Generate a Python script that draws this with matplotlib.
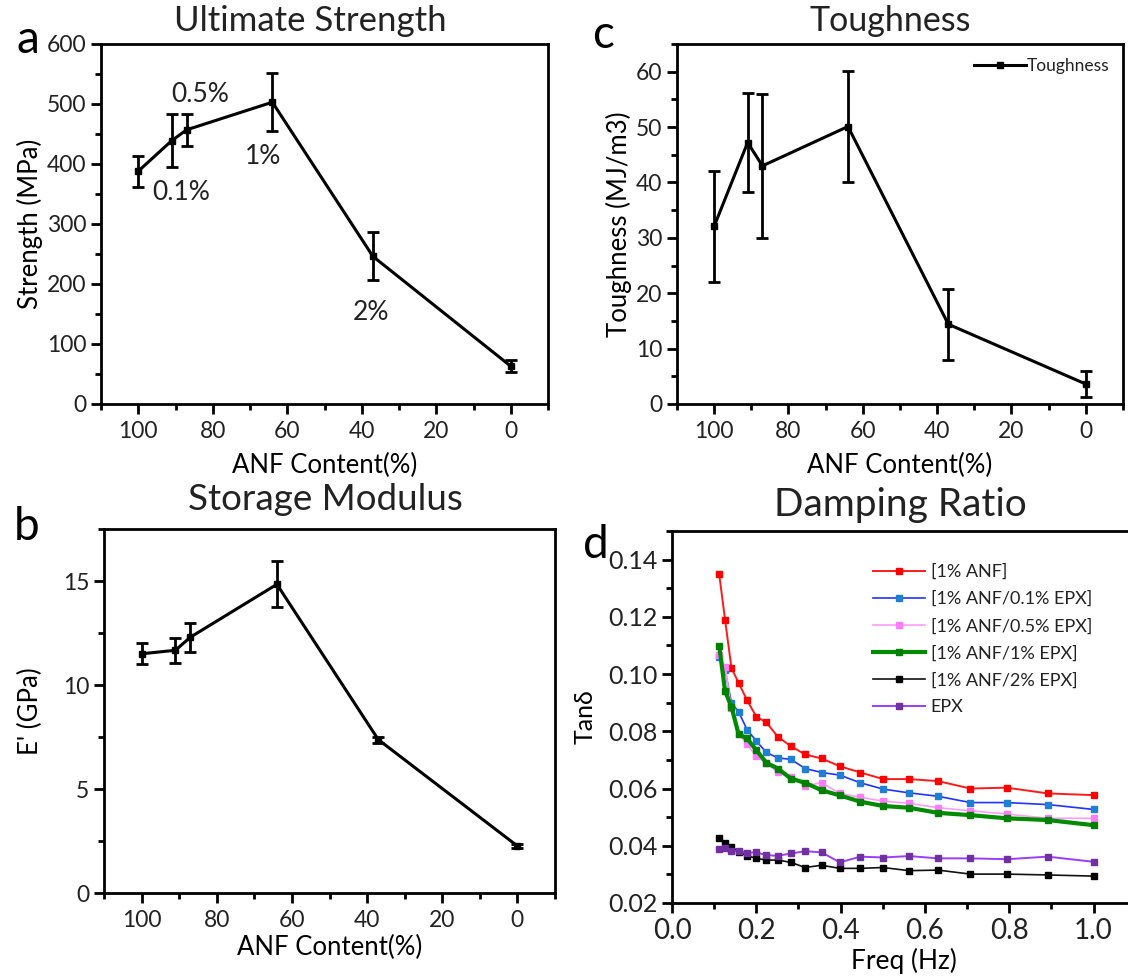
import matplotlib
matplotlib.use("Agg")
import matplotlib.pyplot as plt
from matplotlib.lines import Line2D
from matplotlib.ticker import MultipleLocator, FormatStrFormatter

plt.rcParams['font.family'] = ['Lato', 'DejaVu Sans']
plt.rcParams['text.color'] = '#222222'

# ---- mechanical data vs ANF content ----
anf_content = [100, 91, 87, 64, 37, 0]

strength = [388, 439, 457, 503, 246, 63]
strength_err = [26, 44, 27, 48, 40, 10]
strength_tags = ["0.1%", "0.5%", "1%", "2%"]

modulus = [11.5, 11.67, 12.3, 14.84, 7.37, 2.26]
modulus_err = [0.5, 0.6, 0.7, 1.1, 0.15, 0.1]

toughness = [32.1, 47.2, 43.0, 50.1, 14.4, 3.6]
toughness_err = [10, 9, 13, 10, 6.4, 2.3]

# ---- damping (tan delta) vs frequency ----
freq = [0.112, 0.126, 0.141, 0.158, 0.178, 0.200, 0.224, 0.251, 0.282, 0.316,
        0.355, 0.398, 0.447, 0.501, 0.562, 0.631, 0.708, 0.794, 0.891, 1.000]
tan_anf = [0.1349, 0.1188, 0.1022, 0.0969, 0.0909, 0.0851, 0.0831, 0.0781, 0.0748, 0.0719,
           0.0705, 0.0678, 0.0656, 0.0633, 0.0633, 0.0626, 0.0600, 0.0603, 0.0583, 0.0577]
tan_epx01 = [0.1060, 0.1014, 0.0900, 0.0868, 0.0806, 0.0766, 0.0726, 0.0707, 0.0702, 0.0670,
             0.0656, 0.0647, 0.0620, 0.0598, 0.0585, 0.0573, 0.0551, 0.0551, 0.0544, 0.0527]
tan_epx05 = [0.1066, 0.1025, 0.0880, 0.0792, 0.0755, 0.0713, 0.0688, 0.0657, 0.0639, 0.0610,
             0.0620, 0.0583, 0.0569, 0.0556, 0.0548, 0.0533, 0.0522, 0.0511, 0.0496, 0.0496]
tan_epx1 = [0.1098, 0.0940, 0.0886, 0.0790, 0.0775, 0.0734, 0.0690, 0.0670, 0.0635, 0.0620,
            0.0594, 0.0576, 0.0554, 0.0539, 0.0533, 0.0515, 0.0507, 0.0496, 0.0490, 0.0472]
tan_epx2 = [0.0428, 0.0408, 0.0397, 0.0379, 0.0365, 0.0356, 0.0350, 0.0350, 0.0342, 0.0324,
            0.0332, 0.0321, 0.0321, 0.0324, 0.0313, 0.0315, 0.0301, 0.0301, 0.0298, 0.0294]
tan_epx = [0.0387, 0.0393, 0.0381, 0.0381, 0.0376, 0.0377, 0.0367, 0.0365, 0.0373, 0.0381,
           0.0377, 0.0342, 0.0362, 0.0359, 0.0364, 0.0356, 0.0356, 0.0353, 0.0362, 0.0344]
damping_labels = ["[1% ANF]", "[1% ANF/0.1% EPX]", "[1% ANF/0.5% EPX]",
                  "[1% ANF/1% EPX]", "[1% ANF/2% EPX]", "EPX"]

W, H = 1128, 976
fig = plt.figure(figsize=(W / 100, H / 100), dpi=100)


def px_axes(left, top, right, bottom):
    return fig.add_axes([left / W, 1 - bottom / H, (right - left) / W, (bottom - top) / H])


def fig_text(x, y, s, **kw):
    fig.text(x / W, 1 - y / H, s, **kw)


TICK_FS = 16.5
LABEL_FS = 18.5


def style_axes(ax):
    for sp in ax.spines.values():
        sp.set_linewidth(2)
        sp.set_color('black')
    ax.tick_params(which='both', direction='out', top=False, right=False,
                   width=2, labelsize=TICK_FS, colors='black', labelcolor='#222222')
    ax.tick_params(which='major', length=7)
    ax.tick_params(which='minor', length=4)


def anf_axes(ax, pad):
    ax.set_xlim(110, -10)
    ax.xaxis.set_major_locator(MultipleLocator(20))
    ax.xaxis.set_minor_locator(MultipleLocator(10))
    ax.tick_params(axis='x', pad=5)
    ax.set_xlabel("ANF Content(%)", fontsize=LABEL_FS, labelpad=pad)


err_kw = dict(color='black', lw=2.2, marker='s', ms=4.5, capsize=4, elinewidth=2,
              capthick=2)

# ---- (a) ultimate strength ----
ax_a = px_axes(101, 44, 548, 404)
style_axes(ax_a)
ax_a.errorbar(anf_content, strength, yerr=strength_err, **err_kw)
anf_axes(ax_a, 8)
ax_a.set_ylim(0, 600)
ax_a.yaxis.set_major_locator(MultipleLocator(100))
ax_a.yaxis.set_minor_locator(MultipleLocator(50))
ax_a.set_ylabel("Strength (MPa)", fontsize=LABEL_FS, labelpad=3)
tag_pos = [(88.5, 352), (83.5, 515), (66.5, 412), (37.5, 152)]
for (tx, ty), tag in zip(tag_pos, strength_tags):
    ax_a.text(tx, ty, tag, fontsize=19, ha='center', va='center')

# ---- (c) toughness ----
ax_c = px_axes(677, 44, 1123, 404)
style_axes(ax_c)
ax_c.errorbar(anf_content, toughness, yerr=toughness_err, **err_kw)
anf_axes(ax_c, 8)
ax_c.set_ylim(0, 65)
ax_c.yaxis.set_major_locator(MultipleLocator(10))
ax_c.yaxis.set_minor_locator(MultipleLocator(5))
ax_c.set_ylabel("Toughness (MJ/m3)", fontsize=LABEL_FS, labelpad=3)
c_handle = Line2D([], [], color='black', lw=2.2, marker='s', ms=4.5)
ax_c.legend([c_handle], ["Toughness"], loc='upper right', frameon=False, fontsize=12.5,
            handlelength=3.0, handletextpad=0.0, borderaxespad=0.4)

# ---- (b) storage modulus ----
ax_b = px_axes(104, 529, 555, 893)
style_axes(ax_b)
ax_b.errorbar(anf_content, modulus, yerr=modulus_err, **err_kw)
anf_axes(ax_b, 3)
ax_b.set_ylim(0, 17.5)
ax_b.yaxis.set_major_locator(MultipleLocator(5))
ax_b.yaxis.set_minor_locator(MultipleLocator(2.5))
ax_b.set_ylabel("E' (GPa)", fontsize=LABEL_FS, labelpad=14)

# ---- (d) damping ratio ----
XMAX_D = 1.1
ax_d = px_axes(672, 531, 672 + XMAX_D * 421.5, 903)
style_axes(ax_d)
ax_d.spines['right'].set_visible(False)
series = [
    (tan_anf, '#ff1a1a', '#ff0000', 1.4),
    (tan_epx01, '#2233ff', '#1f7fd0', 1.2),
    (tan_epx05, '#ff9cff', '#ff7cff', 1.2),
    (tan_epx1, '#008a00', '#008000', 3.0),
    (tan_epx2, '#111111', '#000000', 1.2),
    (tan_epx, '#9b3dff', '#7030a0', 1.4),
]
for (vals, lc, mc, lw), lab in zip(series, damping_labels):
    ax_d.plot(freq, vals, color=lc, lw=lw, marker='s', ms=4.8, mfc=mc, mec=mc,
              label=lab)
ax_d.set_xlim(0, XMAX_D)
ax_d.set_ylim(0.02, 0.15)
ax_d.xaxis.set_major_locator(MultipleLocator(0.2))
ax_d.xaxis.set_minor_locator(MultipleLocator(0.1))
ax_d.yaxis.set_major_locator(MultipleLocator(0.02))
ax_d.yaxis.set_minor_locator(MultipleLocator(0.01))
ax_d.xaxis.set_major_formatter(FormatStrFormatter('%.1f'))
ax_d.yaxis.set_major_formatter(FormatStrFormatter('%.2f'))
ax_d.tick_params(axis='x', labelsize=20)
ax_d.tick_params(axis='y', labelsize=18)
ax_d.set_xlabel("Freq (Hz)", fontsize=19, labelpad=3)
ax_d.set_ylabel("Tan\u03b4", fontsize=18, labelpad=8)
ax_d.legend(loc='upper left',
            bbox_to_anchor=((873 - 672) / (XMAX_D * 421.5), 1 - (564 - 531) / 372),
            frameon=False, fontsize=13, handlelength=2.9, handletextpad=0.3,
            labelspacing=0.6, borderaxespad=0, borderpad=0)

# ---- titles and panel letters ----
fig_text(310, 21, "Ultimate Strength", fontsize=25, ha='center', va='center')
fig_text(890, 21, "Toughness", fontsize=24.5, ha='center', va='center')
fig_text(325, 500, "Storage Modulus", fontsize=26.5, ha='center', va='center')
fig_text(900, 505, "Damping Ratio", fontsize=28, ha='center', va='center')
for (lx, ly), letter in zip([(28, 40), (27, 527), (603, 35), (596, 545)], "abcd"):
    fig_text(lx, ly, letter, fontsize=33, ha='center', va='center', color='black')

fig.savefig("out.png", dpi=100)
